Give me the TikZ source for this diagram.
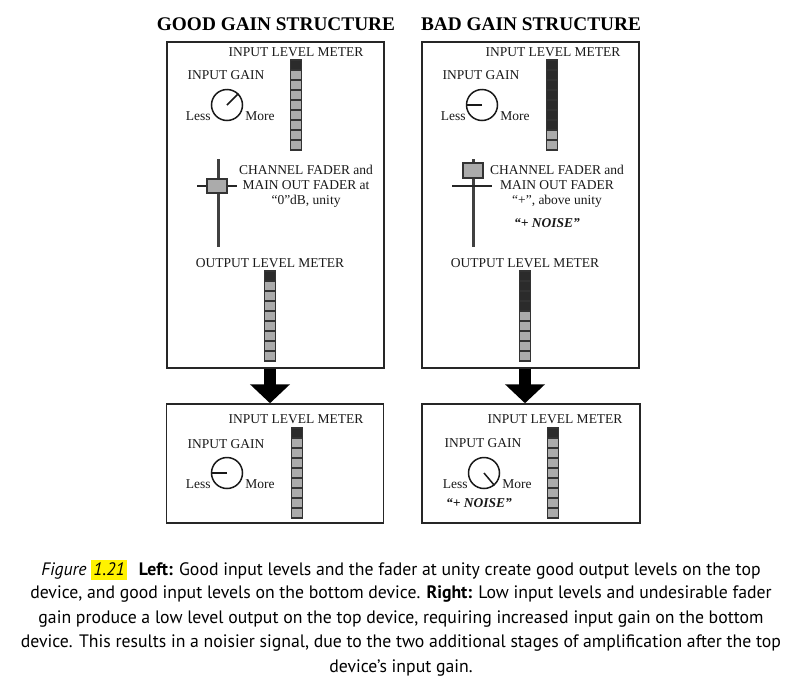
\documentclass[tikz,border=0pt]{standalone}
\usepackage{fontspec}
\setmainfont{Liberation Serif}
\newfontfamily\capfont[FakeStretch=0.985]{PT Sans}
\usetikzlibrary{arrows.meta}
\usetikzlibrary{positioning}

\definecolor{segon}{HTML}{ABABAB}
\definecolor{segoff}{HTML}{2B2B2B}
\definecolor{rim}{HTML}{333333}
\definecolor{marker}{HTML}{FFF200}

\tikzset{
	devbox/.style={draw=black!85, line width=1.5pt, minimum width=217pt, inner sep=0pt},
	seg/.style={draw=rim, line width=1.3pt},
	knob/.style={draw=black!90, line width=1.5pt, circle, minimum size=31pt, inner sep=0pt},
	lbl/.style={font=\fontsize{13.5}{15}\selectfont, text=black!90, inner sep=0pt},
	heading/.style={font=\fontsize{19.3}{22}\selectfont\bfseries, inner sep=0pt},
	noise/.style={lbl, font=\fontsize{13.5}{15}\selectfont\bfseries\itshape},
	rail/.style={draw=black!75, line width=3pt},
	crossbar/.style={draw=black!85, line width=1.5pt},
	fadercap/.style={draw=rim, fill=segon, line width=1.5pt},
	bigarrow/.style={line width=12pt, -{Triangle[length=19pt, width=39pt]}},
	caption/.style={font=\capfont\fontsize{18}{24.5}\selectfont, inner sep=0pt}
}

% meter: x, top y, number of unlit segments
\newcommand{\levelmeter}[3]{
	\foreach \k in {0,...,8}{
		\ifnum\k<#3
			\draw[seg, fill=segoff] (#1-5.5,#2+10*\k) rectangle ++(11,10);
		\else
			\draw[seg, fill=segon] (#1-5.5,#2+10*\k) rectangle ++(11,10);
		\fi
	}
}

\begin{document}
\begin{tikzpicture}[x=1pt, y=-1pt]
	\path[fill=white] (0,0) rectangle (804,686);

	% good gain structure
	\node[heading] (goodtitle) at (276,24) {GOOD GAIN STRUCTURE};
	\node[devbox, minimum height=326pt] (goodtop) at (275.5,205) {};
	\node[lbl] (goodinmeter) at (296,52) {INPUT LEVEL METER};
	\levelmeter{296}{60}{1}
	\node[lbl] (goodgain) at (226,75) {INPUT GAIN};
	\node[knob] (knobA) at (227,105) {};
	\draw[knob] (knobA.center) -- (knobA.45);
	\node[lbl, anchor=south east] (lessA) at (knobA.west |- knobA.south) {Less};
	\node[lbl, anchor=south west, xshift=2pt] (moreA) at (knobA.east |- knobA.south) {More};
	\draw[rail] (218,159) -- (218,247);
	\draw[crossbar] (197,186) -- (237,186);
	\draw[fadercap] (207,179) rectangle (227,193);
	\node[lbl, align=center] (goodfader) at (306,186) {CHANNEL FADER and\\MAIN OUT FADER at\\“0”dB, unity};
	\node[lbl] (goodoutmeter) at (270,263) {OUTPUT LEVEL METER};
	\levelmeter{270}{271}{1}
	\coordinate (goodout) at (270,361);

	\node[devbox, minimum height=119pt] (goodbot) at (275,463.5) {};
	\node[lbl] (goodinmeter2) at (296,419) {INPUT LEVEL METER};
	\levelmeter{297}{428}{1}
	\node[lbl] (goodgain2) at (226,444) {INPUT GAIN};
	\node[knob] (knobB) at (227,473) {};
	\draw[knob] (knobB.center) -- (knobB.180);
	\node[lbl, anchor=south east] (lessB) at (knobB.west |- knobB.south) {Less};
	\node[lbl, anchor=south west, xshift=2pt] (moreB) at (knobB.east |- knobB.south) {More};

	\draw[bigarrow] (goodtop.south -| goodout) -- (goodbot.north -| goodout);

	% bad gain structure
	\node[heading] (badtitle) at (531,24) {BAD GAIN STRUCTURE};
	\node[devbox, minimum height=326pt] (badtop) at (530.5,205) {};
	\node[lbl] (badinmeter) at (553,52) {INPUT LEVEL METER};
	\levelmeter{552}{60}{7}
	\node[lbl] (badgain) at (481,75) {INPUT GAIN};
	\node[knob] (knobC) at (482,105) {};
	\draw[knob] (knobC.center) -- (knobC.180);
	\node[lbl, anchor=south east] (lessC) at (knobC.west |- knobC.south) {Less};
	\node[lbl, anchor=south west, xshift=2pt] (moreC) at (knobC.east |- knobC.south) {More};
	\draw[rail] (473,159) -- (473,247);
	\draw[crossbar] (452,186) -- (492,186);
	\draw[fadercap] (463,163) rectangle (483,178);
	\node[lbl, align=center] (badfader) at (557,186) {CHANNEL FADER and\\MAIN OUT FADER\\“+”, above unity};
	\node[noise] (badnoise) at (547,223) {“+ NOISE”};
	\node[lbl] (badoutmeter) at (525,263) {OUTPUT LEVEL METER};
	\levelmeter{525}{271}{4}
	\coordinate (badout) at (525,361);

	\node[devbox, minimum width=218pt, minimum height=119pt] (badbot) at (531,463.5) {};
	\node[lbl] (badinmeter2) at (555,419) {INPUT LEVEL METER};
	\levelmeter{553}{428}{1}
	\node[lbl] (badgain2) at (483,443) {INPUT GAIN};
	\node[knob] (knobD) at (484,473) {};
	\draw[knob] (knobD.center) -- (knobD.-50);
	\node[lbl, anchor=south east] (lessD) at (knobD.west |- knobD.south) {Less};
	\node[lbl, anchor=south west, xshift=2pt] (moreD) at (knobD.east |- knobD.south) {More};
	\node[noise] (badnoise2) at (479,503) {“+ NOISE”};

	\draw[bigarrow] (badtop.south -| badout) -- (badbot.north -| badout);

	% caption
	\setlength{\fboxsep}{2pt}
	\node[caption] (cap1) at (401,570) {\textit{Figure} \colorbox{marker}{\rule[-2.5pt]{0pt}{14.5pt}\textit{1.21}}\hspace{12pt}\textbf{Left:} Good input levels and the fader at unity create good output levels on the top};
	\node[caption] (cap2) at (401,594.5) {device, and good input levels on the bottom device. \textbf{Right:} Low input levels and undesirable fader};
	\node[caption] (cap3) at (401,619) {gain produce a low level output on the top device, requiring increased input gain on the bottom};
	\node[caption] (cap4) at (401,643.5) {device. This results in a noisier signal, due to the two additional stages of amplification after the top};
	\node[caption] (cap5) at (401,668) {device’s input gain.};
\end{tikzpicture}
\end{document}
